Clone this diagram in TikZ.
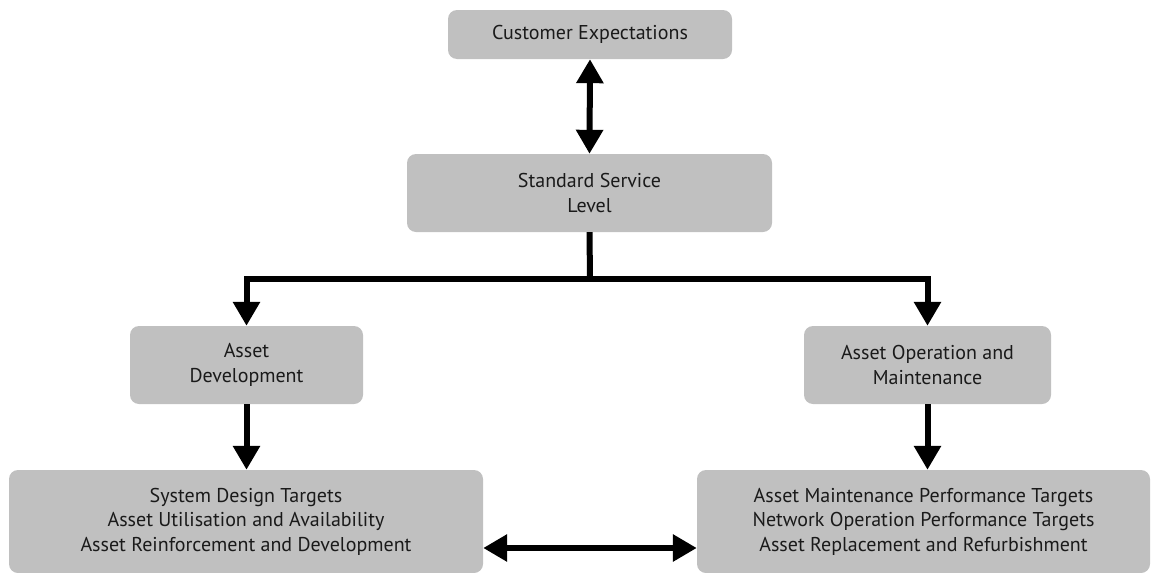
\documentclass[tikz,border=0pt]{standalone}
\usepackage{fontspec}
\setmainfont{PT Sans}
\usetikzlibrary{arrows.meta}
\definecolor{boxgray}{RGB}{192,192,192}
\definecolor{txt}{RGB}{26,26,26}
\tikzset{
  box/.style={fill=boxgray, draw=none, rounded corners=9pt, align=center,
    text=txt, font=\fontsize{20pt}{24.5pt}\selectfont, inner sep=0pt},
  conn/.style={line width=6pt, draw=black},
  tip/.style={-{Triangle[length=24pt,width=26pt]}},
  tips/.style={{Triangle[length=24pt,width=26pt]}-{Triangle[length=24pt,width=26pt]}},
}
\begin{document}
\begin{tikzpicture}[x=1pt,y=-1pt]
\useasboundingbox (0,0) rectangle (1152,573);
\node[box, minimum width=284pt, minimum height=49pt] (ce) at (590,34.5) {Customer Expectations};
\node[box, minimum width=365pt, minimum height=78pt] (ssl) at (589.5,193) {Standard Service\\Level};
\node[box, minimum width=233pt, minimum height=78pt] (ad) at (246.5,365) {Asset\\Development};
\node[box, minimum width=247pt, minimum height=78pt] (aom) at (927.5,365) {Asset Operation and\\Maintenance};
\node[box, minimum width=474pt, minimum height=103pt] (sdt) at (246,521.5) {System Design Targets\\Asset Utilisation and Availability\\Asset Reinforcement and Development};
\node[box, minimum width=453pt, minimum height=103pt] (amp) at (923.5,521.5) {Asset Maintenance Performance Targets\\Network Operation Performance Targets\\Asset Replacement and Refurbishment};
\coordinate (j) at (590,279);
\draw[conn, tips] (ce.south) -- (ssl.north);
\draw[conn] (ssl.south) -- (j);
\draw[conn, tip] (j) -| (ad.north);
\draw[conn, tip] (j) -| (aom.north);
\draw[conn, tip] (ad.south) -- (ad.south |- sdt.north);
\draw[conn, tip] (aom.south) -- (aom.south |- amp.north);
\draw[conn, tips] (sdt.east |- 0,548) -- (amp.west |- 0,548);
\end{tikzpicture}
\end{document}
